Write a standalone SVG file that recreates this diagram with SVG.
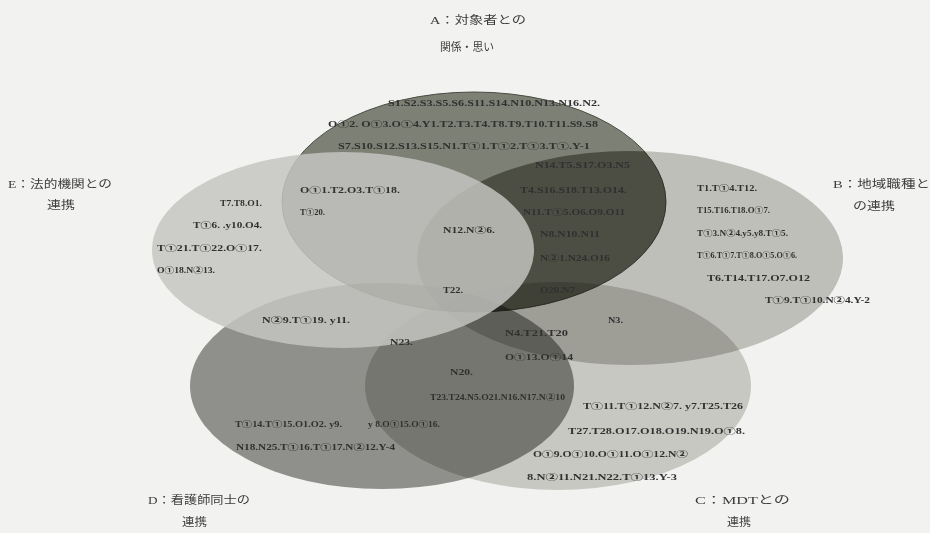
<svg xmlns="http://www.w3.org/2000/svg" width="930" height="533" viewBox="0 0 930 533">
<style>
.bg{fill:#f2f2f0}
.set{mix-blend-mode:multiply}
.lbl{font-family:"Liberation Serif","Noto Sans CJK JP",serif;font-size:11px;fill:#3c3c3c}
.t{font-family:"Liberation Serif","Noto Sans CJK JP",serif;font-size:8.5px;font-weight:bold;fill:#303030}
</style>
<defs>
<clipPath id="clipA"><ellipse cx="474" cy="202" rx="192" ry="110"/></clipPath>
</defs>
<rect class="bg" x="0" y="0" width="930" height="533"/>
<g id="sets">
<g id="setB"><ellipse class="set" cx="630" cy="258" rx="213" ry="107" fill="#c9c9c5"/></g>
<g id="setC"><ellipse class="set" cx="558" cy="386" rx="193" ry="104" fill="#d3d3d0"/></g>
<g id="setD"><ellipse class="set" cx="382" cy="386" rx="192" ry="103" fill="#979794"/></g>
<g id="setA"><ellipse class="set" cx="474" cy="202" rx="192" ry="110" fill="#84877b" stroke="#4e5048" stroke-width="1"/>
<ellipse class="set" cx="630" cy="258" rx="213" ry="107" fill="#c4c4c0" clip-path="url(#clipA)"/></g>
<g id="setE"><ellipse cx="343" cy="250" rx="191" ry="98" fill="#c5c5c1" fill-opacity="0.84"/></g>
</g>
<g id="labels">
<g id="labelA"><text class="lbl" x="430" y="24" textLength="96" lengthAdjust="spacingAndGlyphs">A：対象者との</text><text class="lbl" x="440" y="51" textLength="54" lengthAdjust="spacingAndGlyphs">関係・思い</text></g>
<g id="labelB"><text class="lbl" x="833" y="188" textLength="97" lengthAdjust="spacingAndGlyphs">B：地域職種と</text><text class="lbl" x="853" y="210" textLength="42" lengthAdjust="spacingAndGlyphs">の連携</text></g>
<g id="labelC"><text class="lbl" x="695" y="504" textLength="95" lengthAdjust="spacingAndGlyphs">C：MDTとの</text><text class="lbl" x="727" y="526" textLength="24" lengthAdjust="spacingAndGlyphs">連携</text></g>
<g id="labelD"><text class="lbl" x="148" y="504" textLength="102" lengthAdjust="spacingAndGlyphs">D：看護師同士の</text><text class="lbl" x="182" y="526" textLength="25" lengthAdjust="spacingAndGlyphs">連携</text></g>
<g id="labelE"><text class="lbl" x="8" y="188" textLength="104" lengthAdjust="spacingAndGlyphs">E：法的機関との</text><text class="lbl" x="47" y="209" textLength="28" lengthAdjust="spacingAndGlyphs">連携</text></g>
</g>
<g id="regions">
<text class="t" x="388" y="106" textLength="212" lengthAdjust="spacingAndGlyphs">S1.S2.S3.S5.S6.S11.S14.N10.N13.N16.N2.</text>
<text class="t" x="328" y="127" textLength="270" lengthAdjust="spacingAndGlyphs">O①2. O①3.O①4.Y1.T2.T3.T4.T8.T9.T10.T11.S9.S8</text>
<text class="t" x="338" y="149" textLength="252" lengthAdjust="spacingAndGlyphs">S7.S10.S12.S13.S15.N1.T①1.T①2.T①3.T①.Y-1</text>
<text class="t" x="535" y="168" textLength="95" lengthAdjust="spacingAndGlyphs">N14.T5.S17.O3.N5</text>
<text class="t" x="300" y="193" textLength="100" lengthAdjust="spacingAndGlyphs">O①1.T2.O3.T①18.</text>
<text class="t" x="520" y="193" textLength="107" lengthAdjust="spacingAndGlyphs">T4.S16.S18.T13.O14.</text>
<text class="t" x="697" y="191" textLength="60" lengthAdjust="spacingAndGlyphs">T1.T①4.T12.</text>
<text class="t" x="220" y="206" textLength="42" lengthAdjust="spacingAndGlyphs">T7.T8.O1.</text>
<text class="t" x="300" y="215" textLength="25" lengthAdjust="spacingAndGlyphs">T①20.</text>
<text class="t" x="523" y="215" textLength="102" lengthAdjust="spacingAndGlyphs">N11.T①5.O6.O9.O11</text>
<text class="t" x="697" y="213" textLength="73" lengthAdjust="spacingAndGlyphs">T15.T16.T18.O①7.</text>
<text class="t" x="193" y="228" textLength="69" lengthAdjust="spacingAndGlyphs">T①6. .y10.O4.</text>
<text class="t" x="443" y="233" textLength="52" lengthAdjust="spacingAndGlyphs">N12.N②6.</text>
<text class="t" x="540" y="237" textLength="60" lengthAdjust="spacingAndGlyphs">N8.N10.N11</text>
<text class="t" x="697" y="236" textLength="91" lengthAdjust="spacingAndGlyphs">T①3.N②4.y5.y8.T①5.</text>
<text class="t" x="157" y="251" textLength="105" lengthAdjust="spacingAndGlyphs">T①21.T①22.O①17.</text>
<text class="t" x="540" y="261" textLength="70" lengthAdjust="spacingAndGlyphs">N②1.N24.O16</text>
<text class="t" x="697" y="258" textLength="100" lengthAdjust="spacingAndGlyphs">T①6.T①7.T①8.O①5.O①6.</text>
<text class="t" x="157" y="273" textLength="58" lengthAdjust="spacingAndGlyphs">O①18.N②13.</text>
<text class="t" x="707" y="281" textLength="103" lengthAdjust="spacingAndGlyphs">T6.T14.T17.O7.O12</text>
<text class="t" x="443" y="293" textLength="20" lengthAdjust="spacingAndGlyphs">T22.</text>
<text class="t" x="540" y="293" textLength="35" lengthAdjust="spacingAndGlyphs">O20.N7</text>
<text class="t" x="765" y="303" textLength="105" lengthAdjust="spacingAndGlyphs">T①9.T①10.N②4.Y-2</text>
<text class="t" x="262" y="323" textLength="88" lengthAdjust="spacingAndGlyphs">N②9.T①19. y11.</text>
<text class="t" x="608" y="323" textLength="15" lengthAdjust="spacingAndGlyphs">N3.</text>
<text class="t" x="505" y="336" textLength="63" lengthAdjust="spacingAndGlyphs">N4.T21.T20</text>
<text class="t" x="390" y="345" textLength="23" lengthAdjust="spacingAndGlyphs">N23.</text>
<text class="t" x="505" y="360" textLength="68" lengthAdjust="spacingAndGlyphs">O①13.O①14</text>
<text class="t" x="450" y="375" textLength="23" lengthAdjust="spacingAndGlyphs">N20.</text>
<text class="t" x="430" y="400" textLength="135" lengthAdjust="spacingAndGlyphs">T23.T24.N5.O21.N16.N17.N②10</text>
<text class="t" x="583" y="409" textLength="160" lengthAdjust="spacingAndGlyphs">T①11.T①12.N②7. y7.T25.T26</text>
<text class="t" x="235" y="427" textLength="107" lengthAdjust="spacingAndGlyphs">T①14.T①15.O1.O2. y9.</text>
<text class="t" x="368" y="427" textLength="72" lengthAdjust="spacingAndGlyphs">y 8.O①15.O①16.</text>
<text class="t" x="568" y="434" textLength="177" lengthAdjust="spacingAndGlyphs">T27.T28.O17.O18.O19.N19.O①8.</text>
<text class="t" x="236" y="450" textLength="159" lengthAdjust="spacingAndGlyphs">N18.N25.T①16.T①17.N②12.Y-4</text>
<text class="t" x="533" y="457" textLength="155" lengthAdjust="spacingAndGlyphs">O①9.O①10.O①11.O①12.N②</text>
<text class="t" x="527" y="480" textLength="150" lengthAdjust="spacingAndGlyphs">8.N②11.N21.N22.T①13.Y-3</text>
</g>
</svg>
